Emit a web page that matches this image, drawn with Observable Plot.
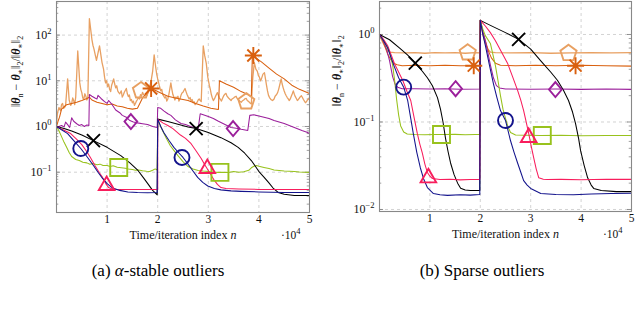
<!DOCTYPE html>
<html><head><meta charset="utf-8">
<script src="https://cdn.jsdelivr.net/npm/d3@7"></script>
<script src="https://cdn.jsdelivr.net/npm/@observablehq/plot@0.6"></script>
<style>
html,body{margin:0;padding:0;background:#fff;}
#wrap{position:relative;width:640px;height:314px;overflow:hidden;font-family:"Liberation Serif","DejaVu Serif",serif;}
.panel{position:absolute;top:0;}
.panel svg, .panel svg text{font-family:"Liberation Serif","DejaVu Serif",serif !important;}
.cap{position:absolute;top:261px;width:316px;text-align:center;font-size:17px;line-height:20px;color:#000;font-family:"Liberation Serif","DejaVu Serif",serif;}
</style></head>
<body><div id="wrap">
<div id="pa" class="panel" style="left:0px"></div>
<div id="pb" class="panel" style="left:320px"></div>
<div class="cap" style="left:0px">(a) <i>α</i>-stable outliers</div>
<div class="cap" style="left:324px">(b) Sparse outliers</div>
</div>
<script>
// ---------- tick labels ----------
const xTicks = [1, 2, 3, 4, 5];
const aYTicks = [0.1, 1, 10, 100];
const bYTicks = [0.01, 0.1, 1];
const xLabel = "Time/iteration index n";
const xScaleLabel = "·10^4";
const captions = ["(a) α-stable outliers", "(b) Sparse outliers"];

// ---------- panel (a): alpha-stable outliers (x in units of 10^4) ----------
const a_lightOrange = [[0,1.2],[0.02,2.0],[0.05,2.6],[0.08,2.2],[0.1,3.0],[0.12,3.2],[0.14,2.5],[0.16,2.6],[0.18,2.9],[0.22,11],[0.25,3.8],[0.28,2.9],[0.3,3.2],[0.32,4.2],[0.34,3.7],[0.36,3.0],[0.38,4.4],[0.42,45],[0.46,9],[0.48,6.5],[0.5,5.5],[0.52,4.2],[0.54,4.0],[0.56,5.2],[0.58,4.6],[0.6,3.8],[0.62,4.2],[0.65,230],[0.7,80],[0.72,60],[0.74,50],[0.77,35],[0.79,28],[0.85,58],[0.9,25],[0.93,18],[0.95,12],[0.97,9],[0.99,10],[1.01,7.5],[1.03,8.5],[1.05,6.5],[1.07,5.8],[1.09,8],[1.13,11],[1.15,8.5],[1.17,7],[1.19,7.8],[1.21,6],[1.23,5.5],[1.25,5.2],[1.28,6],[1.3,4.4],[1.32,4.9],[1.34,5.6],[1.38,6.8],[1.4,5.2],[1.42,4.5],[1.44,4.9],[1.46,3.7],[1.48,3.9],[1.5,3.3],[1.52,3.6],[1.54,2.9],[1.56,3.2],[1.58,3.6],[1.6,3.9],[1.62,4.3],[1.64,4.0],[1.66,5.0],[1.68,4.6],[1.7,5.6],[1.72,5.0],[1.75,4.7],[1.77,5.3],[1.79,4.8],[1.81,5.6],[1.83,7],[1.85,8],[1.87,10],[1.9,16],[1.93,37],[1.96,20],[1.98,14],[2.0,11],[2.03,8],[2.06,6],[2.08,6.5],[2.1,5],[2.12,4.6],[2.14,4.2],[2.16,4.5],[2.18,3.6],[2.2,4.0],[2.22,5],[2.26,9],[2.28,6.5],[2.3,5],[2.32,4.4],[2.34,3.8],[2.36,4.4],[2.38,4.2],[2.4,4.6],[2.42,3.6],[2.44,4.0],[2.46,4.8],[2.48,5.4],[2.5,5.6],[2.52,6.2],[2.54,6.8],[2.56,5.8],[2.58,5],[2.6,4.5],[2.62,4],[2.64,4.3],[2.66,3.6],[2.68,3.9],[2.7,3.3],[2.72,3.5],[2.74,3.0],[2.76,3.2],[2.78,3.4],[2.8,3.8],[2.82,4],[2.84,3.7],[2.86,3.5],[2.9,58],[2.93,35],[2.96,24],[2.99,12],[3.02,8],[3.04,6.5],[3.06,5],[3.08,4.2],[3.1,3.7],[3.12,4.0],[3.14,4.5],[3.16,5.0],[3.18,5.5],[3.2,4.8],[3.22,4.2],[3.24,3.9],[3.26,3.6],[3.28,4.1],[3.3,4.6],[3.32,5.0],[3.35,5.3],[3.37,4.6],[3.4,4.2],[3.42,4.0],[3.45,3.7],[3.47,4.0],[3.5,4.2],[3.52,4.4],[3.55,4.6],[3.57,4.1],[3.6,3.8],[3.62,3.6],[3.65,3.4],[3.67,3.6],[3.7,3.8],[3.72,4.0],[3.75,4.1],[3.77,3.7],[3.8,3.5],[3.82,3.3],[3.85,3.1],[3.88,12],[3.91,25],[3.94,18],[3.97,16],[3.99,13],[4.01,12],[4.03,10],[4.05,11],[4.08,14],[4.11,15],[4.13,11],[4.15,8],[4.17,6],[4.19,4.8],[4.21,4.3],[4.23,4.0],[4.25,3.8],[4.27,3.7],[4.3,4.0],[4.32,4.6],[4.35,5.0],[4.37,5.5],[4.39,6.5],[4.41,8],[4.44,11],[4.46,8.5],[4.48,7],[4.5,6],[4.52,5.2],[4.54,4.7],[4.56,4.3],[4.58,4.0],[4.6,3.7],[4.62,4.0],[4.64,4.6],[4.66,5.2],[4.68,6],[4.7,5.1],[4.72,4.5],[4.74,4.1],[4.76,3.7],[4.78,3.9],[4.8,4.2],[4.82,4.5],[4.84,4.7],[4.86,4.3],[4.88,3.9],[4.9,3.6],[4.92,3.3],[4.94,3.5],[4.96,3.8],[4.98,4.0],[5.0,4.3]];
const a_darkOrange = [[0,1.0],[0.03,1.3],[0.06,1.6],[0.1,2.4],[0.15,2.7],[0.2,3.0],[0.3,3.2],[0.4,3.4],[0.5,3.7],[0.6,4.1],[0.65,4.4],[0.7,3.8],[0.8,3.4],[0.9,3.2],[1.0,3.0],[1.1,3.1],[1.2,2.8],[1.3,2.7],[1.4,2.5],[1.5,2.4],[1.6,2.5],[1.7,4.2],[1.8,5.8],[1.87,6.8],[1.95,6.2],[2.05,5.5],[2.2,4.6],[2.35,4.2],[2.5,3.9],[2.6,3.7],[2.75,3.2],[2.9,2.8],[3.05,2.5],[3.2,2.35],[3.22,10],[3.35,8.5],[3.5,7.2],[3.65,5.8],[3.78,5.0],[3.85,4.5],[3.87,35],[3.95,31],[4.05,26],[4.2,19],[4.35,14],[4.5,11],[4.65,8],[4.8,6.5],[5.0,5.3]];
const a_purple = [[0,1.0],[0.05,1.0],[0.1,1.05],[0.15,0.98],[0.18,1.25],[0.22,1.1],[0.26,0.95],[0.3,1.55],[0.34,1.3],[0.4,1.15],[0.45,1.05],[0.5,1.1],[0.55,1.0],[0.6,1.08],[0.64,1.05],[0.65,5.0],[0.7,4.6],[0.76,4.2],[0.8,4.0],[0.82,4.8],[0.88,4.1],[0.95,3.5],[1.0,3.2],[1.03,3.7],[1.1,3.0],[1.17,2.3],[1.25,2.0],[1.3,1.75],[1.38,1.6],[1.45,1.35],[1.52,1.25],[1.6,1.2],[1.7,1.15],[1.8,1.1],[1.9,1.0],[1.99,0.95],[2.0,2.6],[2.06,2.5],[2.12,2.2],[2.2,1.9],[2.26,1.75],[2.35,1.4],[2.46,1.16],[2.55,1.1],[2.65,1.0],[2.8,0.9],[2.84,1.9],[2.9,1.8],[3.0,1.65],[3.1,1.5],[3.2,1.3],[3.3,1.15],[3.45,0.95],[3.55,0.92],[3.65,0.87],[3.78,0.82],[3.82,1.75],[3.9,1.8],[4.0,1.7],[4.1,1.6],[4.2,1.5],[4.3,1.35],[4.4,1.25],[4.5,1.16],[4.6,1.05],[4.7,0.95],[4.85,0.82],[4.95,0.75],[5.0,0.7]];
const a_green = [[0,1.0],[0.05,0.8],[0.1,0.6],[0.15,0.45],[0.2,0.35],[0.25,0.27],[0.3,0.22],[0.38,0.19],[0.45,0.18],[0.52,0.165],[0.6,0.16],[0.66,0.15],[0.72,0.155],[0.8,0.145],[0.86,0.15],[0.92,0.14],[1.0,0.14],[1.06,0.133],[1.12,0.138],[1.2,0.128],[1.28,0.125],[1.36,0.122],[1.42,0.118],[1.5,0.115],[1.56,0.11],[1.62,0.112],[1.7,0.107],[1.78,0.105],[1.84,0.104],[1.9,0.11],[1.95,0.118],[1.99,0.112],[2.0,1.45],[2.05,1.05],[2.1,0.8],[2.17,0.55],[2.25,0.38],[2.33,0.29],[2.4,0.23],[2.5,0.17],[2.6,0.133],[2.7,0.118],[2.8,0.109],[2.9,0.106],[3.0,0.104],[3.1,0.1],[3.2,0.099],[3.3,0.1],[3.4,0.098],[3.5,0.104],[3.6,0.1],[3.7,0.102],[3.8,0.11],[3.85,0.125],[3.9,0.135],[3.95,0.14],[4.0,0.135],[4.1,0.127],[4.2,0.12],[4.3,0.112],[4.4,0.109],[4.5,0.106],[4.6,0.105],[4.7,0.104],[4.8,0.101],[4.9,0.1],[5.0,0.099]];
const a_black = [[0,1.0],[0.15,0.9],[0.3,0.8],[0.5,0.65],[0.73,0.49],[1.0,0.35],[1.27,0.23],[1.45,0.16],[1.61,0.109],[1.72,0.075],[1.8,0.057],[1.9,0.04],[1.99,0.032],[2.0,1.45],[2.2,1.28],[2.4,1.12],[2.6,0.98],[2.76,0.9],[3.0,0.74],[3.25,0.57],[3.45,0.44],[3.59,0.35],[3.72,0.26],[3.85,0.18],[3.95,0.125],[4.01,0.10],[4.1,0.078],[4.19,0.06],[4.28,0.045],[4.38,0.036],[4.5,0.033],[4.7,0.031],[5.0,0.031]];
const a_red = [[0,1.0],[0.08,0.9],[0.18,0.8],[0.28,0.70],[0.4,0.52],[0.5,0.4],[0.6,0.28],[0.67,0.21],[0.76,0.14],[0.84,0.1],[0.91,0.077],[0.97,0.057],[1.03,0.046],[1.1,0.043],[1.2,0.042],[2.0,0.042],[2.0,1.45],[2.1,1.2],[2.2,1.05],[2.3,0.9],[2.45,0.65],[2.55,0.55],[2.66,0.42],[2.76,0.29],[2.86,0.20],[2.93,0.145],[3.0,0.109],[3.06,0.085],[3.12,0.066],[3.18,0.054],[3.25,0.046],[3.35,0.044],[3.6,0.043],[4.0,0.042],[5.0,0.042]];
const a_blue = [[0,1.0],[0.1,0.85],[0.22,0.70],[0.35,0.48],[0.48,0.33],[0.6,0.22],[0.73,0.14],[0.82,0.10],[0.91,0.073],[1.0,0.056],[1.11,0.045],[1.25,0.04],[1.41,0.037],[1.6,0.036],[1.8,0.0355],[1.99,0.036],[2.0,1.45],[2.06,1.0],[2.12,0.74],[2.22,0.5],[2.32,0.35],[2.41,0.27],[2.5,0.21],[2.6,0.15],[2.7,0.105],[2.79,0.077],[2.89,0.06],[2.99,0.05],[3.12,0.044],[3.25,0.041],[3.45,0.039],[3.65,0.038],[4.0,0.037],[4.5,0.036],[5.0,0.036]];
// markers (a)
const a_mk_black = [[0.73,0.49],[2.76,0.9]];
const a_mk_blue = [[0.48,0.33],[2.48,0.21]];
const a_mk_red = [[0.99,0.051],[2.98,0.12]];
const a_mk_green = [[1.23,0.127],[3.23,0.099]];
const a_mk_purple = [[1.47,1.28],[3.49,0.9]];
const a_mk_darkOrange = [[1.87,6.8],[3.89,35.8]];
const a_mk_lightOrange = [[1.67,6.1],[3.75,3.5]];

// ---------- panel (b): sparse outliers ----------
const b_lightOrange = [[0,1.0],[0.05,0.85],[0.1,0.74],[0.15,0.66],[0.2,0.63],[0.3,0.62],[0.5,0.615],[0.7,0.62],[0.9,0.61],[1.1,0.62],[1.3,0.615],[1.5,0.62],[1.7,0.61],[1.9,0.62],[1.99,0.615],[2.0,1.45],[2.05,1.0],[2.1,0.8],[2.15,0.68],[2.2,0.63],[2.3,0.62],[2.6,0.615],[3.0,0.62],[3.4,0.61],[3.8,0.615],[4.2,0.62],[4.6,0.615],[5.0,0.62]];
const b_darkOrange = [[0,1.0],[0.05,0.88],[0.1,0.75],[0.16,0.6],[0.22,0.52],[0.28,0.47],[0.35,0.45],[0.45,0.44],[0.7,0.445],[1.0,0.44],[1.3,0.445],[1.6,0.44],[1.99,0.44],[2.0,1.45],[2.05,1.05],[2.1,0.85],[2.16,0.65],[2.22,0.54],[2.3,0.47],[2.4,0.445],[2.7,0.44],[3.1,0.445],[3.5,0.44],[4.0,0.445],[4.5,0.44],[5.0,0.435]];
const b_purple = [[0,1.0],[0.05,0.9],[0.1,0.78],[0.15,0.65],[0.2,0.5],[0.26,0.33],[0.31,0.27],[0.36,0.25],[0.45,0.24],[0.7,0.24],[1.0,0.238],[1.3,0.24],[1.6,0.237],[1.99,0.238],[2.0,1.45],[2.05,1.1],[2.1,0.85],[2.15,0.62],[2.2,0.45],[2.26,0.32],[2.32,0.26],[2.38,0.245],[2.5,0.238],[3.0,0.237],[3.5,0.238],[4.0,0.236],[4.5,0.238],[5.0,0.236]];
const b_green = [[0,1.0],[0.1,0.82],[0.2,0.62],[0.26,0.45],[0.3,0.3],[0.34,0.18],[0.38,0.12],[0.42,0.09],[0.48,0.077],[0.55,0.073],[0.7,0.072],[0.9,0.0715],[1.1,0.072],[1.3,0.0718],[1.5,0.0722],[1.7,0.0715],[1.9,0.072],[1.99,0.0718],[2.0,1.45],[2.05,1.15],[2.1,0.97],[2.2,0.79],[2.3,0.44],[2.35,0.3],[2.4,0.2],[2.45,0.14],[2.5,0.11],[2.55,0.088],[2.6,0.076],[2.7,0.071],[2.9,0.0705],[3.2,0.070],[3.6,0.0705],[4.0,0.0698],[4.5,0.0702],[5.0,0.07]];
const b_black = [[0,1.0],[0.2,0.87],[0.4,0.7],[0.56,0.58],[0.71,0.47],[0.85,0.38],[0.95,0.32],[1.05,0.26],[1.15,0.19],[1.21,0.14],[1.26,0.1],[1.31,0.065],[1.36,0.046],[1.41,0.034],[1.48,0.025],[1.55,0.020],[1.61,0.0175],[1.7,0.0167],[1.8,0.0165],[1.99,0.0165],[2.0,1.45],[2.2,1.27],[2.5,1.05],[2.76,0.88],[3.0,0.68],[3.2,0.5],[3.4,0.37],[3.53,0.30],[3.65,0.23],[3.75,0.176],[3.83,0.13],[3.89,0.096],[3.95,0.065],[3.99,0.047],[4.06,0.032],[4.13,0.023],[4.2,0.019],[4.25,0.0174],[4.4,0.0165],[4.7,0.016],[5.0,0.016]];
const b_red = [[0,1.0],[0.08,0.88],[0.16,0.75],[0.3,0.46],[0.46,0.3],[0.55,0.22],[0.62,0.176],[0.69,0.11],[0.75,0.074],[0.8,0.056],[0.85,0.044],[0.9,0.033],[0.95,0.0265],[1.0,0.024],[1.05,0.0226],[1.2,0.022],[1.4,0.0222],[1.6,0.0218],[1.8,0.022],[1.99,0.0221],[2.0,1.45],[2.1,1.25],[2.2,1.05],[2.3,0.85],[2.42,0.63],[2.54,0.47],[2.64,0.33],[2.74,0.23],[2.8,0.18],[2.86,0.135],[2.91,0.1],[2.96,0.074],[3.01,0.053],[3.06,0.039],[3.11,0.029],[3.16,0.023],[3.25,0.0222],[3.33,0.022],[3.6,0.0221],[4.0,0.0219],[4.5,0.0222],[5.0,0.0221]];
const b_blue = [[0,1.0],[0.08,0.85],[0.16,0.71],[0.28,0.45],[0.38,0.32],[0.48,0.25],[0.56,0.175],[0.62,0.11],[0.67,0.074],[0.74,0.045],[0.81,0.03],[0.88,0.022],[0.95,0.0178],[1.07,0.0152],[1.2,0.0147],[1.35,0.0145],[1.6,0.0147],[1.8,0.0146],[1.99,0.0148],[2.0,1.45],[2.05,1.0],[2.1,0.75],[2.18,0.45],[2.26,0.275],[2.33,0.19],[2.4,0.135],[2.5,0.104],[2.6,0.061],[2.67,0.045],[2.74,0.034],[2.8,0.027],[2.86,0.0214],[2.93,0.019],[3.0,0.0174],[3.2,0.0152],[3.5,0.0148],[3.85,0.0147],[4.2,0.015],[4.6,0.0152],[5.0,0.0153]];
// markers (b)
const b_mk_black = [[0.71,0.47],[2.76,0.88]];
const b_mk_blue = [[0.48,0.25],[2.5,0.104]];
const b_mk_red = [[0.97,0.023],[2.96,0.0665]];
const b_mk_green = [[1.23,0.072],[3.23,0.070]];
const b_mk_purple = [[1.51,0.24],[3.49,0.235]];
const b_mk_darkOrange = [[1.87,0.44],[3.89,0.44]];
const b_mk_lightOrange = [[1.75,0.62],[3.75,0.61]];

// ---------- styles ----------
const colors = {lightOrange:"#e8a062", darkOrange:"#d9600f", purple:"#9b1f9b", green:"#98c21d", black:"#000000", red:"#f81d5c", blue:"#13138c"};
const order = ["lightOrange","darkOrange","purple","green","black","red","blue"];

// custom marker shapes (size = pi r^2)
const R = s => Math.sqrt(s / Math.PI);
const shapes = {
  circle: {draw(c, s){ const r = R(s); c.moveTo(r, 0); c.arc(0, 0, r, 0, 2*Math.PI); c.closePath(); }},
  square: {draw(c, s){ const r = R(s); c.moveTo(-r,-r); c.lineTo(r,-r); c.lineTo(r,r); c.lineTo(-r,r); c.closePath(); }},
  triangle: {draw(c, s){ const r = R(s); const h = r*Math.sqrt(3)/2; c.moveTo(0,-r); c.lineTo(h, r/2); c.lineTo(-h, r/2); c.closePath(); }},
  diamond: {draw(c, s){ const r = R(s); c.moveTo(0,-r); c.lineTo(r*0.85,0); c.lineTo(0,r); c.lineTo(-r*0.85,0); c.closePath(); }},
  times: {draw(c, s){ const r = R(s); c.moveTo(-r,-r); c.lineTo(r,r); c.moveTo(r,-r); c.lineTo(-r,r); }},
  asterisk: {draw(c, s){ const r = R(s); for (let i = 0; i < 4; i++){ const a = i*Math.PI/4; c.moveTo(r*Math.cos(a), r*Math.sin(a)); c.lineTo(-r*Math.cos(a), -r*Math.sin(a)); } }},
  pentagon: {draw(c, s){ const r = R(s); for (let i = 0; i < 5; i++){ const a = -Math.PI/2 + i*2*Math.PI/5; const x = r*Math.cos(a), y = r*Math.sin(a); if (i) c.lineTo(x,y); else c.moveTo(x,y);} c.closePath(); }}
};
const markerStyle = {
  black:{shape:"times", r:6.5}, blue:{shape:"circle", r:7.5}, red:{shape:"triangle", r:9},
  green:{shape:"square", r:8.5}, purple:{shape:"diamond", r:7.5}, darkOrange:{shape:"asterisk", r:8.5}, lightOrange:{shape:"pentagon", r:8.5}
};

function fmtPow(d){ return "10^" + Math.round(Math.log10(d)); }

function makePanel(cfg){
  const {lines, marks, yDomain, yTicks, ml, mr, mb} = cfg;
  const minor = [];
  const decs = [yTicks[0]/10].concat(yTicks);
  for (const t of decs) for (let k = 2; k < 10; k++){ const v = t*k; if (v > yDomain[0] && v < yDomain[1]) minor.push(v); }
  const majors = yTicks.filter(v => v > yDomain[0] && v < yDomain[1]);
  const mm = [];
  for (const key of order){
    mm.push(Plot.line(lines[key], {x: d => d[0], y: d => d[1], stroke: colors[key], strokeWidth: key === "lightOrange" ? 1.3 : 1.05}));
  }
  for (const key of order){
    const st = markerStyle[key];
    mm.push(Plot.dot(marks[key], {x: d => d[0], y: d => d[1], symbol: shapes[st.shape], r: st.r, stroke: colors[key], fill: "none", strokeWidth: 1.9}));
  }
  const gridStyle = {stroke: "#c8c8c8", strokeDasharray: "3,3", strokeWidth: 0.8};
  const plot = Plot.plot({
    width: 320, height: 252,
    marginLeft: ml, marginRight: mr, marginTop: 1, marginBottom: mb,
    style: "font-family: 'Liberation Serif', 'DejaVu Serif', serif; font-size: 11px; background: transparent; color: #111;",
    x: {domain: [0, 5], ticks: xTicks, tickFormat: d => String(d), tickSize: 0, tickPadding: 2, label: null},
    y: {type: "log", domain: yDomain, ticks: yTicks, tickFormat: fmtPow, tickSize: 0, tickPadding: 5, label: null},
    marks: [
      Plot.ruleX(xTicks.slice(0, 4), gridStyle),
      Plot.ruleY(majors, gridStyle),
      Plot.ruleY(minor, {x1: 0, x2: 0.045, stroke: "#777", strokeWidth: 0.7}),
      Plot.ruleY(minor, {x1: 4.955, x2: 5, stroke: "#777", strokeWidth: 0.7}),
      Plot.ruleY(majors, {x1: 0, x2: 0.08, stroke: "#777", strokeWidth: 0.8}),
      Plot.ruleY(majors, {x1: 4.92, x2: 5, stroke: "#777", strokeWidth: 0.8}),
      ...mm,
      Plot.frame({stroke: "#888", strokeWidth: 1.1}),
      Plot.text([xLabel], {frameAnchor: "bottom", dy: 26, text: d => d, fontSize: 12}),
      Plot.text([xScaleLabel], {frameAnchor: "bottom-right", dy: 26, dx: -9, textAnchor: "end", text: d => d, fontSize: 11.5}),
      Plot.text(["YLABEL"], {frameAnchor: "left", dx: cfg.ylabDx, rotate: -90, text: d => d, fontSize: 12})
    ]
  });
  // post-process math text
  for (const t of plot.querySelectorAll("text")){
    const s = t.textContent;
    if (/^10\^/.test(s)){
      const e = s.slice(3).replace("-", "−");
      t.innerHTML = `10<tspan dy="-5" font-size="8.5">${e}</tspan>`;
      t.setAttribute("font-size", "12");
    } else if (s === xScaleLabel){
      t.innerHTML = `·10<tspan dy="-5" font-size="8.5">4</tspan>`;
    } else if (s === xLabel){
      t.innerHTML = `Time/iteration index <tspan font-style="italic">n</tspan>`;
    } else if (s === "YLABEL"){
      const th = `<tspan font-weight="bold" font-style="italic">θ</tspan>`;
      const sub = (x) => `<tspan dy="2.5" font-size="8">${x}</tspan><tspan dy="-2.5">`;
      t.innerHTML = `‖${th}${sub("n")} − </tspan>${th}${sub("∗")}‖</tspan>${sub("2")}/‖</tspan>${th}${sub("∗")}‖</tspan>${sub("2")}</tspan>`;
    } else if (/^[1-5]$/.test(s)){
      t.setAttribute("font-size", "11.5");
    }
  }
  return plot;
}

const aLines = {lightOrange:a_lightOrange, darkOrange:a_darkOrange, purple:a_purple, green:a_green, black:a_black, red:a_red, blue:a_blue};
const aMarks = {lightOrange:a_mk_lightOrange, darkOrange:a_mk_darkOrange, purple:a_mk_purple, green:a_mk_green, black:a_mk_black, red:a_mk_red, blue:a_mk_blue};
const bLines = {lightOrange:b_lightOrange, darkOrange:b_darkOrange, purple:b_purple, green:b_green, black:b_black, red:b_red, blue:b_blue};
const bMarks = {lightOrange:b_mk_lightOrange, darkOrange:b_mk_darkOrange, purple:b_mk_purple, green:b_mk_green, black:b_mk_black, red:b_mk_red, blue:b_mk_blue};

document.getElementById("pa").appendChild(makePanel({lines: aLines, marks: aMarks, yDomain: [Math.pow(10,-1.882), Math.pow(10,2.735)], yTicks: aYTicks, ml: 56, mr: 11, mb: 40, ylabDx: -40}));
document.getElementById("pb").appendChild(makePanel({lines: bLines, marks: bMarks, yDomain: [Math.pow(10,-2.023), Math.pow(10,0.377)], yTicks: bYTicks, ml: 59, mr: 9, mb: 41, ylabDx: -42}));
</script>
</body></html>
